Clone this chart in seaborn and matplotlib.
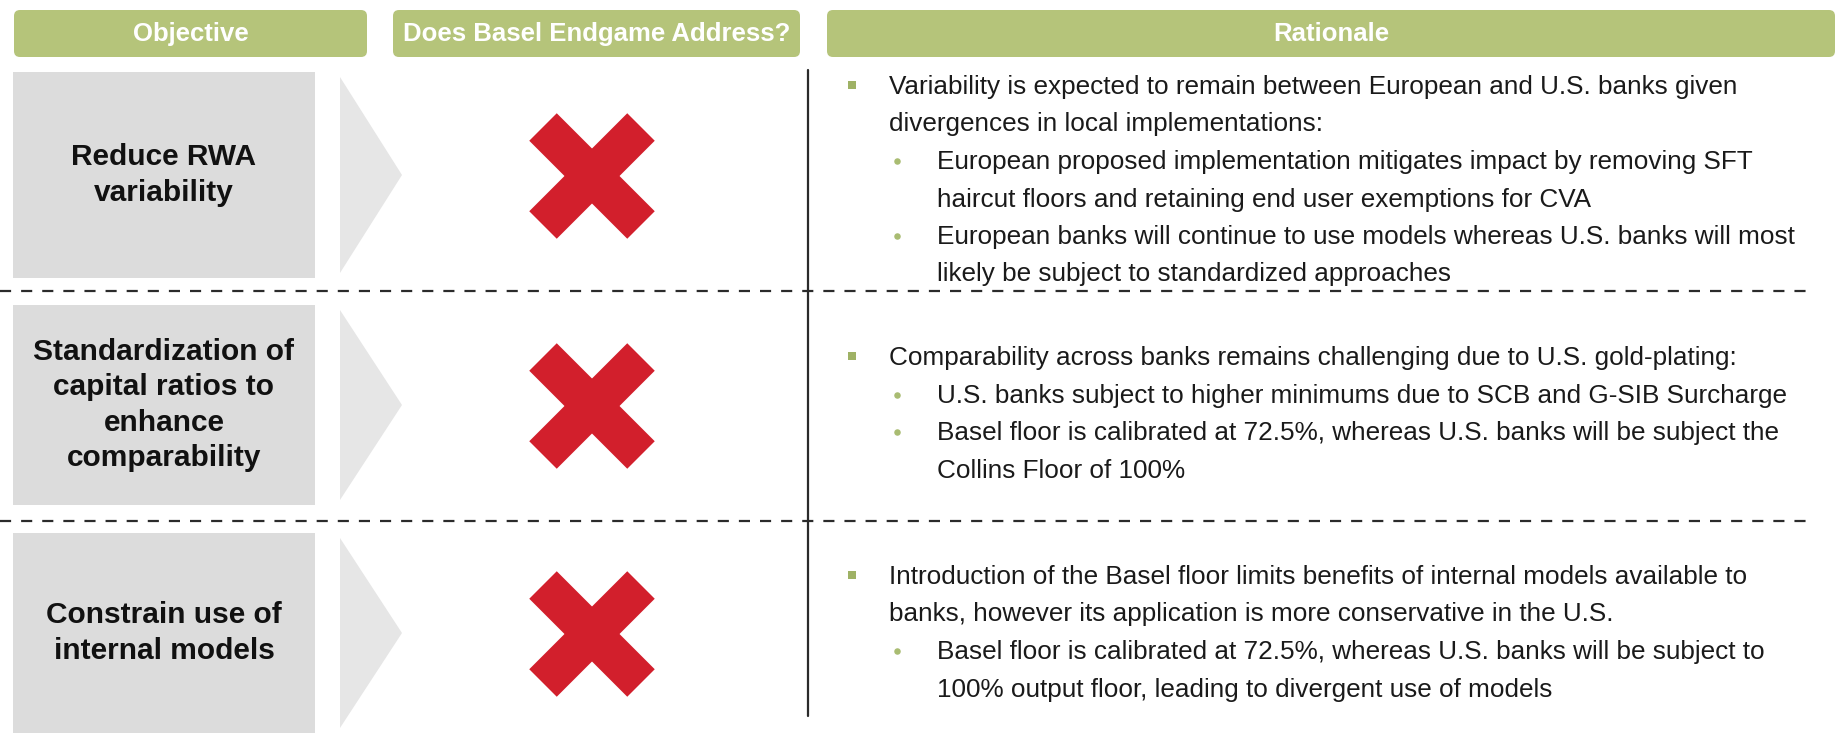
import matplotlib
matplotlib.use("Agg")
import matplotlib.pyplot as plt
import seaborn as sns
from matplotlib.patches import FancyBboxPatch, Rectangle, Polygon

# --- content -------------------------------------------------------------
headers = ["Objective", "Does Basel Endgame Address?", "Rationale"]

objectives = [
    ["Reduce RWA", "variability"],
    ["Standardization of", "capital ratios to", "enhance", "comparability"],
    ["Constrain use of", "internal models"],
]

addressed = [False, False, False]

# (level, lines) ; level 1 = square bullet, level 2 = round bullet
rationale_1 = [
    (1, ["Variability is expected to remain between European and U.S. banks given",
         "divergences in local implementations:"]),
    (2, ["European proposed implementation mitigates impact by removing SFT",
         "haircut floors and retaining end user exemptions for CVA"]),
    (2, ["European banks will continue to use models whereas U.S. banks will most",
         "likely be subject to standardized approaches"]),
]
rationale_2 = [
    (1, ["Comparability across banks remains challenging due to U.S. gold-plating:"]),
    (2, ["U.S. banks subject to higher minimums due to SCB and G-SIB Surcharge"]),
    (2, ["Basel floor is calibrated at 72.5%, whereas U.S. banks will be subject the",
         "Collins Floor of 100%"]),
]
rationale_3 = [
    (1, ["Introduction of the Basel floor limits benefits of internal models available to",
         "banks, however its application is more conservative in the U.S."]),
    (2, ["Basel floor is calibrated at 72.5%, whereas U.S. banks will be subject to",
         "100% output floor, leading to divergent use of models"]),
]
rationale = [rationale_1, rationale_2, rationale_3]

# --- styling / layout ------------------------------------------------------
sns.set_theme(style="white")
plt.rcParams['font.family'] = ['Liberation Sans', 'DejaVu Sans']

green = "#b5c47a"
bullet_green = "#9fb265"
dot_green = "#a9bc72"
box_grey = "#dcdcdc"
arrow_grey = "#e6e6e6"
red = "#d21f2c"
line_col = "#2b2b2b"

W, H = 1839, 736
fig = plt.figure(figsize=(W / 100, H / 100), dpi=100)
ax = fig.add_axes([0, 0, 1, 1])
ax.set_xlim(0, W)
ax.set_ylim(H, 0)
ax.axis("off")

# header bars
header_x = [(14, 367), (393, 800), (827, 1835)]
for (x0, x1), label in zip(header_x, headers):
    ax.add_patch(FancyBboxPatch((x0 + 4, 14), x1 - x0 - 8, 39,
                                boxstyle="round,pad=4,rounding_size=6",
                                fc=green, ec="none"))
    ax.text((x0 + x1) / 2, 34, label, color="white", fontsize=18.5,
            fontweight="bold", ha="center", va="center")

row_top = [72, 305, 533]
row_bot = [278, 505, 733]
text_top = [87, 358, 577]
line_gap = 37.5
obj_gap = 35.5

for i in range(3):
    top, bot = row_top[i], row_bot[i]
    mid = (top + bot) / 2
    # grey objective box + arrow
    ax.add_patch(Rectangle((13, top), 302, bot - top, fc=box_grey, ec="none"))
    ax.add_patch(Polygon([(340, top + 5), (402, mid), (340, bot - 5)],
                         closed=True, fc=arrow_grey, ec="none"))
    lines = objectives[i]
    n = len(lines)
    for k, ln in enumerate(lines):
        y = mid + (k - (n - 1) / 2) * obj_gap
        ax.text(164, y, ln, fontsize=21.5, fontweight="bold", color="#111111",
                ha="center", va="center")

    # red cross for "not addressed"
    if not addressed[i]:
        cx, cy, d = 592, mid + 1, 49
        for sx in (-1, 1):
            ax.plot([cx - d, cx + d], [cy - sx * d, cy + sx * d], color=red,
                    lw=28, solid_capstyle="butt")

    # rationale bullets
    y = text_top[i]
    for level, blines in rationale[i]:
        if level == 1:
            ax.scatter([852], [y - 2], marker="s", s=40, color=bullet_green,
                       linewidths=0, zorder=3)
            tx = 889
        else:
            ax.scatter([897], [y - 1], marker="o", s=22, color=dot_green,
                       linewidths=0, zorder=3)
            tx = 937
        for ln in blines:
            ax.text(tx, y, ln, fontsize=18.8, color="#1a1a1a",
                    ha="left", va="center")
            y += line_gap

# dashed row separators and vertical divider
for yy in (291, 521):
    ax.plot([0, 1812], [yy, yy], color=line_col, lw=1.6, ls=(0, (5, 4.5)))
ax.plot([808, 808], [70, 716], color=line_col, lw=1.6)

fig.savefig("out.png", dpi=100, facecolor="white")
